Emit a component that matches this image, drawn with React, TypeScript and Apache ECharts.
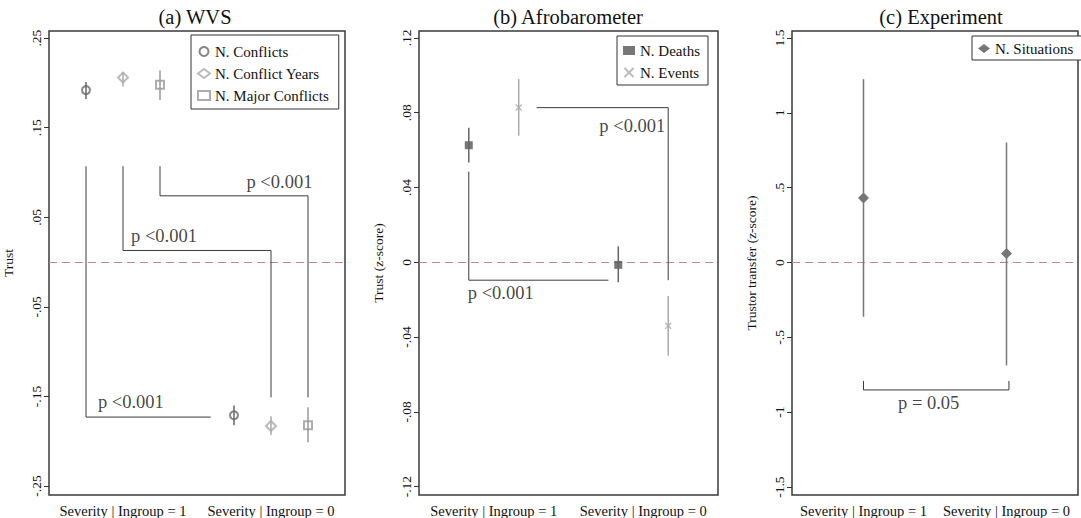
import React, { useEffect, useRef } from "react";
import * as echarts from "echarts";

const FONT = '"Liberation Serif", "Times New Roman", serif';

// ---------- data ----------
const categories = ["Severity | Ingroup = 1", "Severity | Ingroup = 0"];

// (a) WVS
const wvsNames = ["N. Conflicts", "N. Conflict Years", "N. Major Conflicts"];
const wvsConflictsEst = [0.192, -0.171];
const wvsConflictsLo = [0.182, -0.182];
const wvsConflictsHi = [0.201, -0.16];
const wvsYearsEst = [0.206, -0.183];
const wvsYearsLo = [0.196, -0.193];
const wvsYearsHi = [0.212, -0.172];
const wvsMajorEst = [0.198, -0.182];
const wvsMajorLo = [0.181, -0.201];
const wvsMajorHi = [0.214, -0.162];
const wvsTicks = [-0.25, -0.15, -0.05, 0.05, 0.15, 0.25];

// (b) Afrobarometer
const afroNames = ["N. Deaths", "N. Events"];
const afroDeathsEst = [0.0626, -0.0014];
const afroDeathsLo = [0.0533, -0.0107];
const afroDeathsHi = [0.072, 0.0085];
const afroEventsEst = [0.0828, -0.034];
const afroEventsLo = [0.0677, -0.05];
const afroEventsHi = [0.098, -0.018];
const afroTicks = [-0.12, -0.08, -0.04, 0, 0.04, 0.08, 0.12];

// (c) Experiment
const expNames = ["N. Situations"];
const expEst = [0.431, 0.06];
const expLo = [-0.362, -0.687];
const expHi = [1.225, 0.802];
const expTicks = [-1.5, -1, -0.5, 0, 0.5, 1, 1.5];

// significance brackets (data coordinates) and their labels
const wvsBracket1 = [[0.75, 0.107], [0.75, -0.173], [1.593, -0.173]];
const wvsBracket2 = [[1.0, 0.107], [1.0, 0.013], [2.0, 0.013], [2.0, -0.151]];
const wvsBracket3 = [[1.25, 0.107], [1.25, 0.074], [2.25, 0.074], [2.25, -0.151]];
const wvsPLabels = [
  { text: "p <0.001", at: [1.053, -0.156] },
  { text: "p <0.001", at: [1.277, 0.029] },
  { text: "p <0.001", at: [2.057, 0.089] },
];
const afroBracket1 = [[0.833, 0.0485], [0.833, -0.0096], [1.767, -0.0096]];
const afroBracket2 = [[1.287, 0.0827], [2.167, 0.0827], [2.167, -0.0096]];
const afroPLabels = [
  { text: "p <0.001", at: [1.047, -0.0165] },
  { text: "p <0.001", at: [1.927, 0.073] },
];
const expBracket = [[1.0, -0.791], [1.0, -0.851], [2.017, -0.851], [2.017, -0.791]];
const expPLabels = [{ text: "p = 0.05", at: [1.456, -0.94] }];

// ---------- helpers ----------
const stataFmt = (v: number) => {
  const r = Math.round(v * 100) / 100;
  if (r === 0) return "0";
  let s = String(Math.abs(r));
  if (s.startsWith("0.")) s = s.slice(1);
  return (r < 0 ? "-" : "") + s;
};

const X_PATH = "path://M0,0L10,10M10,0L0,10";

function makeXAxis(gridIndex: number) {
  return {
    type: "value",
    gridIndex,
    min: 0.5,
    max: 2.5,
    interval: 0.5,
    axisLine: { show: false },
    axisTick: { show: false },
    splitLine: { show: false },
    axisLabel: {
      margin: 8,
      fontFamily: FONT,
      fontSize: 14.5,
      color: "#111",
      formatter: (v: number) =>
        Math.abs(v - 1) < 1e-6 ? categories[0] : Math.abs(v - 2) < 1e-6 ? categories[1] : "",
    },
  };
}

function makeYAxis(gridIndex: number, min: number, max: number, ticks: number[], name: string) {
  return {
    type: "value",
    gridIndex,
    min,
    max,
    name,
    nameLocation: "middle",
    nameGap: 34,
    nameTextStyle: { fontFamily: FONT, fontSize: 13.5, color: "#111" },
    axisLine: { show: false },
    splitLine: { show: false },
    axisTick: {
      show: true,
      length: 5,
      customValues: ticks,
      lineStyle: { color: "#333", width: 1 },
    },
    axisLabel: {
      rotate: 90,
      margin: 6,
      customValues: ticks,
      fontFamily: FONT,
      fontSize: 13.5,
      color: "#111",
      formatter: (v: number) => stataFmt(v),
    },
  };
}

function points(est: number[], offset: number) {
  return est.map((v, i) => [i + 1 + offset, v]);
}

function errorBars(
  name: string,
  lo: number[],
  hi: number[],
  offset: number,
  color: string,
  axis: number,
  width = 1.5
) {
  return {
    type: "custom",
    name: name + " CI",
    xAxisIndex: axis,
    yAxisIndex: axis,
    z: 4,
    silent: true,
    data: lo.map((l, i) => [i + 1 + offset, l, hi[i]]),
    renderItem: (_params: any, api: any) => {
      const x = api.value(0);
      const a = api.coord([x, api.value(1)]);
      const b = api.coord([x, api.value(2)]);
      return {
        type: "line",
        shape: { x1: a[0], y1: a[1], x2: b[0], y2: b[1] },
        style: { stroke: color, lineWidth: width },
      };
    },
  };
}

function markers(
  name: string,
  est: number[],
  offset: number,
  symbol: string,
  size: number,
  color: string,
  axis: number,
  hollow: boolean
) {
  return {
    type: "scatter",
    name,
    xAxisIndex: axis,
    yAxisIndex: axis,
    z: 3,
    symbol,
    symbolSize: size,
    data: points(est, offset),
    itemStyle: hollow
      ? { color, borderColor: color, borderWidth: 1.3 }
      : symbol.startsWith("path://")
      ? { color: color, borderColor: color, borderWidth: 1.3 }
      : { color },
  };
}

function bracket(data: number[][], axis: number, withZero: boolean) {
  const s: any = {
    type: "line",
    xAxisIndex: axis,
    yAxisIndex: axis,
    data,
    symbol: "none",
    z: 2,
    silent: true,
    lineStyle: { color: "#3c3c3c", width: 1 },
  };
  if (withZero) {
    s.markLine = {
      silent: true,
      symbol: "none",
      label: { show: false },
      lineStyle: { color: "#c8838c", width: 1, type: [8, 5] },
      data: [{ yAxis: 0 }],
      z: 1,
    };
  }
  return s;
}

function pLabels(list: { text: string; at: number[] }[], axis: number) {
  return {
    type: "scatter",
    xAxisIndex: axis,
    yAxisIndex: axis,
    symbolSize: 0,
    silent: true,
    z: 5,
    data: list.map((p) => ({ value: p.at, name: p.text })),
    label: {
      show: true,
      position: "inside",
      formatter: (p: any) => p.name,
      fontFamily: FONT,
      fontSize: 18.5,
      color: "#111",
    },
  };
}

function legend(names: string[], left: number, top: number, padding: number[]) {
  return {
    data: names,
    orient: "vertical",
    left,
    top,
    selectedMode: false,
    itemWidth: 12,
    itemHeight: 9,
    itemGap: 7,
    padding,
    borderColor: "#333",
    borderWidth: 1,
    backgroundColor: "#fff",
    textStyle: { fontFamily: FONT, fontSize: 15, color: "#111" },
  };
}

export default function App() {
  const ref = useRef<HTMLDivElement>(null);

  useEffect(() => {
    document.body.style.margin = "0";
    if (!ref.current) return;
    const chart = echarts.init(ref.current, null, { renderer: "svg" });

    const gridStyle = {
      show: true,
      borderColor: "#3a3a3a",
      borderWidth: 1.5,
      backgroundColor: "#fff",
      containLabel: false,
    };

    const option: any = {
      animation: false,
      backgroundColor: "#fff",
      grid: [
        { ...gridStyle, left: 47, top: 31, width: 298, height: 465 },
        { ...gridStyle, left: 419, top: 31, width: 299, height: 466 },
        { ...gridStyle, left: 792, top: 31, width: 299, height: 466 },
      ],
      xAxis: [makeXAxis(0), makeXAxis(1), makeXAxis(2)],
      yAxis: [
        makeYAxis(0, -0.26, 0.258, wvsTicks, "Trust"),
        makeYAxis(1, -0.1245, 0.1237, afroTicks, "Trust (z-score)"),
        makeYAxis(2, -1.553, 1.547, expTicks, "Trustor transfer (z-score)"),
      ],
      legend: [
        legend(wvsNames, 191, 35, [9, 10, 6, 6]),
        legend(afroNames, 617, 36, [7, 8, 5, 6]),
        legend(expNames, 972, 36, [5, 20, 4, 6]),
      ],
      graphic: [
        { type: "text", x: 195, y: 17, style: { text: "(a) WVS", fontFamily: FONT, fontSize: 20.5, fill: "#111", textAlign: "center", textVerticalAlign: "middle" } },
        { type: "text", x: 568, y: 17, style: { text: "(b) Afrobarometer", fontFamily: FONT, fontSize: 20.5, fill: "#111", textAlign: "center", textVerticalAlign: "middle" } },
        { type: "text", x: 941, y: 17, style: { text: "(c) Experiment", fontFamily: FONT, fontSize: 20.5, fill: "#111", textAlign: "center", textVerticalAlign: "middle" } },
      ],
      series: [
        // (a)
        bracket(wvsBracket1, 0, true),
        bracket(wvsBracket2, 0, false),
        bracket(wvsBracket3, 0, false),
        markers(wvsNames[0], wvsConflictsEst, -0.25, "emptyCircle", 8, "#666", 0, true),
        markers(wvsNames[1], wvsYearsEst, 0, "emptyDiamond", 10, "#aaa", 0, true),
        markers(wvsNames[2], wvsMajorEst, 0.25, "emptyRect", 8, "#999", 0, true),
        errorBars(wvsNames[0], wvsConflictsLo, wvsConflictsHi, -0.25, "#666", 0),
        errorBars(wvsNames[1], wvsYearsLo, wvsYearsHi, 0, "#aaa", 0),
        errorBars(wvsNames[2], wvsMajorLo, wvsMajorHi, 0.25, "#999", 0),
        pLabels(wvsPLabels, 0),
        // (b)
        bracket(afroBracket1, 1, true),
        bracket(afroBracket2, 1, false),
        markers(afroNames[0], afroDeathsEst, -0.167, "rect", 8, "#555", 1, false),
        markers(afroNames[1], afroEventsEst, 0.167, X_PATH, 6, "#aaa", 1, false),
        errorBars(afroNames[0], afroDeathsLo, afroDeathsHi, -0.167, "#666", 1),
        errorBars(afroNames[1], afroEventsLo, afroEventsHi, 0.167, "#aaa", 1),
        pLabels(afroPLabels, 1),
        // (c)
        bracket(expBracket, 2, true),
        markers(expNames[0], expEst, 0, "diamond", 11, "#555", 2, false),
        errorBars(expNames[0], expLo, expHi, 0, "#777", 2),
        pLabels(expPLabels, 2),
      ],
    };

    chart.setOption(option);
    return () => chart.dispose();
  }, []);

  return <div ref={ref} style={{ width: 1081, height: 518 }} />;
}
